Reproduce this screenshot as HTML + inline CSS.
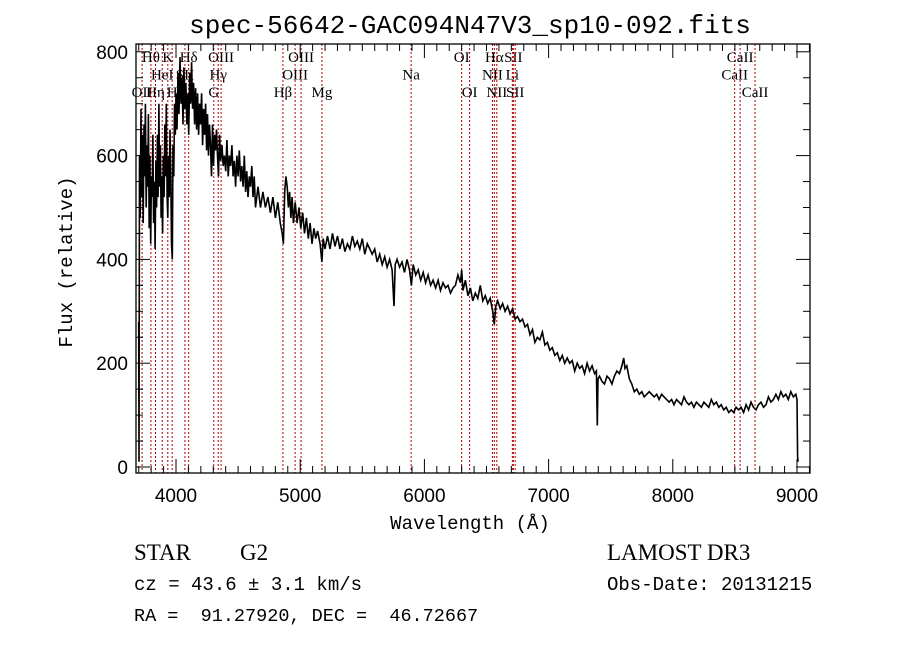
<!DOCTYPE html>
<html><head><meta charset="utf-8"><style>
html,body{margin:0;padding:0;background:#fff;}
svg{display:block;}
.mono{font-family:"Liberation Mono",monospace;}
.lab{font-family:"Liberation Serif",serif;font-size:15px;fill:#000;}
</style></head><body>
<svg id="chart" width="900" height="649" viewBox="0 0 900 649" xmlns="http://www.w3.org/2000/svg">
<rect width="900" height="649" fill="#fff"/>
<text class="mono" x="470" y="33" font-size="26" text-anchor="middle">spec-56642-GAC094N47V3_sp10-092.fits</text>
<g id="lines"></g>
<g id="spec"></g>
<g id="axes"></g>
<text class="mono" x="470" y="529" font-size="19" text-anchor="middle">Wavelength (Å)</text>
<text class="mono" x="0" y="0" font-size="19" text-anchor="middle" transform="translate(72,262) rotate(-90)">Flux (relative)</text>
<text x="134" y="560" font-family="Liberation Serif,serif" font-size="23">STAR</text>
<text x="240" y="560" font-family="Liberation Serif,serif" font-size="23">G2</text>
<text x="607" y="560" font-family="Liberation Serif,serif" font-size="23">LAMOST DR3</text>
<text class="mono" x="134" y="590" font-size="19" style="white-space:pre">cz = 43.6 ± 3.1 km/s</text>
<text class="mono" x="607" y="590" font-size="19">Obs-Date: 20131215</text>
<text class="mono" x="134" y="621" font-size="18.5" style="white-space:pre">RA =  91.27920, DEC =  46.72667</text>
</svg>
<script>
const wave=[3700,3702,3706,3712,3718,3724,3730,3736,3742,3748,3754,3760,3766,3772,3778,3784,3790,3796,3802,3808,3814,3820,3826,3832,3838,3844,3850,3856,3862,3868,3874,3880,3886,3892,3898,3904,3910,3916,3922,3928,3934,3940,3946,3952,3958,3964,3970,3976,3982,3988,3994,4000,4008,4016,4024,4032,4040,4048,4056,4064,4072,4080,4088,4096,4102,4110,4118,4126,4134,4142,4150,4158,4166,4174,4182,4190,4198,4206,4214,4222,4230,4238,4246,4254,4262,4270,4278,4286,4294,4302,4310,4318,4326,4334,4342,4350,4360,4370,4380,4390,4400,4410,4420,4430,4440,4450,4460,4470,4480,4490,4500,4510,4520,4530,4540,4550,4560,4570,4580,4590,4600,4610,4620,4630,4640,4660,4680,4700,4720,4740,4760,4780,4800,4820,4840,4855,4865,4875,4885,4895,4905,4915,4925,4935,4945,4960,4975,4990,5005,5020,5035,5050,5065,5080,5095,5110,5125,5140,5160,5175,5185,5200,5220,5240,5260,5280,5300,5320,5340,5360,5380,5400,5420,5440,5460,5480,5500,5520,5540,5560,5580,5600,5620,5640,5660,5680,5700,5720,5740,5755,5765,5780,5800,5820,5840,5860,5880,5895,5910,5930,5950,5970,5990,6010,6030,6050,6070,6090,6110,6130,6150,6170,6190,6210,6230,6250,6270,6290,6300,6310,6330,6350,6370,6390,6410,6430,6450,6470,6490,6510,6530,6550,6563,6575,6590,6610,6630,6650,6670,6690,6710,6730,6750,6770,6790,6810,6830,6850,6870,6890,6910,6930,6950,6970,6990,7010,7030,7050,7070,7090,7110,7130,7150,7170,7190,7210,7230,7250,7270,7290,7310,7330,7350,7370,7385,7392,7398,7410,7430,7450,7470,7490,7510,7530,7550,7570,7590,7605,7615,7630,7650,7670,7690,7710,7730,7750,7770,7790,7810,7830,7850,7870,7890,7910,7930,7950,7970,7990,8010,8030,8050,8070,8090,8110,8130,8150,8170,8190,8210,8230,8250,8270,8290,8310,8330,8350,8370,8390,8410,8430,8450,8470,8490,8510,8530,8550,8570,8590,8610,8630,8650,8670,8690,8710,8730,8750,8770,8790,8810,8830,8850,8870,8890,8910,8930,8950,8970,8990,9000,9005,9008];
const flux=[280,10,600,480,690,520,640,470,660,560,700,500,620,540,680,460,600,430,560,520,640,470,550,420,590,500,640,520,700,540,620,480,560,450,600,520,660,560,700,520,480,600,520,650,560,430,400,620,560,700,640,720,650,760,680,790,700,750,660,770,690,740,660,720,640,760,700,780,690,740,660,730,650,720,640,700,660,720,620,690,640,700,610,680,600,660,620,560,660,580,640,610,650,600,560,640,590,620,580,600,570,630,560,600,580,620,560,590,540,600,560,610,550,580,540,600,530,570,520,560,540,580,520,560,500,540,500,530,500,520,490,520,480,510,470,450,430,530,560,540,500,530,480,520,470,510,470,500,460,490,450,480,440,470,430,460,440,455,430,395,440,420,445,420,450,425,445,420,440,415,430,420,445,425,435,420,440,410,430,420,410,420,395,410,390,405,385,400,380,310,390,400,385,395,375,400,380,350,390,370,380,360,375,355,370,350,360,345,360,340,355,345,350,335,345,350,370,355,380,340,360,330,345,320,335,325,350,320,330,315,325,300,275,310,320,305,315,300,310,295,305,285,290,280,285,270,275,255,265,240,250,245,260,235,240,225,230,215,220,205,215,200,210,200,205,185,200,190,195,180,200,185,195,180,185,80,170,175,165,160,175,170,160,175,185,180,195,210,190,195,170,160,145,150,140,145,135,140,145,140,135,140,130,140,135,130,125,130,120,130,125,120,135,125,120,125,115,125,120,115,125,120,115,130,120,125,115,120,110,115,105,110,105,115,110,115,105,120,110,125,115,110,120,125,115,120,135,125,130,140,130,145,135,140,130,145,135,140,130,20,10];
const lineWaves=[3727,3798,3835,3889,3934,3969,4072,4102,4304,4340,4363,4861,4959,5007,5175,5893,6300,6364,6548,6563,6583,6708,6716,6731,8498,8542,8662];
const lineLabels=["OII","Hθ","Hη","HeI","K","H","SII","Hδ","G","Hγ","OIII","Hβ","OIII","OIII","Mg","Na","OI","OI","NII","Hα","NII","Li","SII","SII","CaII","CaII","CaII"];
const lineRows=[2,0,2,1,0,2,1,0,2,1,0,2,1,0,2,1,0,2,1,0,2,1,0,2,1,0,2];
const xTicks=[4000,5000,6000,7000,8000,9000];
const yTicks=[0,200,400,600,800];
const X0=136,X1=810,Y0=44,Y1=473;
function sx(w){return 176+(w-4000)*0.1242;}
function sy(f){return 467-f*0.519;}
const NS="http://www.w3.org/2000/svg";
function mk(t,a,p){const e=document.createElementNS(NS,t);for(const k in a)e.setAttribute(k,a[k]);p.appendChild(e);return e;}
const gl=document.getElementById('lines'),gs=document.getElementById('spec'),ga=document.getElementById('axes');
lineWaves.forEach((w,i)=>{
  const l=mk('line',{x1:sx(w),x2:sx(w),y1:Y0,y2:Y1,stroke:'#b00000','stroke-width':1,'stroke-dasharray':'2,2'},gl);
  
  
  const t=mk('text',{x:sx(w),y:62+lineRows[i]*17.5,'text-anchor':'middle',class:'lab'},gl);
  t.textContent=lineLabels[i];
  
  
});
let d='';
wave.forEach((w,i)=>{let y=Math.max(Y0,Math.min(Y1,sy(flux[i])));d+=(i?'L':'M')+sx(w).toFixed(1)+','+y.toFixed(1);});
const p=mk('path',{d:d,fill:'none',stroke:'#000','stroke-width':1.6},gs);


const fr=mk('rect',{x:X0,y:Y0,width:X1-X0,height:Y1-Y0,fill:'none',stroke:'#000','stroke-width':1.3},ga);


for(let w=3700;w<=9100;w+=100){
  const big=w%1000===0,len=big?14:7;
  mk('line',{x1:sx(w),x2:sx(w),y1:Y1,y2:Y1-len,stroke:'#000'},ga);
  mk('line',{x1:sx(w),x2:sx(w),y1:Y0,y2:Y0+len,stroke:'#000'},ga);
}
for(let f=0;f<=800;f+=50){
  const big=f%200===0,len=big?14:7;
  mk('line',{x1:X0,x2:X0+len,y1:sy(f),y2:sy(f),stroke:'#000'},ga);
  mk('line',{x1:X1,x2:X1-len,y1:sy(f),y2:sy(f),stroke:'#000'},ga);
}
xTicks.forEach(w=>{
  const t=mk('text',{x:sx(w),y:502,'text-anchor':'middle','font-family':'Liberation Sans,sans-serif','font-size':19},ga);
  t.textContent=w;
  
  
});
yTicks.forEach(f=>{
  const t=mk('text',{x:128,y:sy(f)+7,'text-anchor':'end','font-family':'Liberation Sans,sans-serif','font-size':19},ga);
  t.textContent=f;
  
  
});
</script>
</body></html>
